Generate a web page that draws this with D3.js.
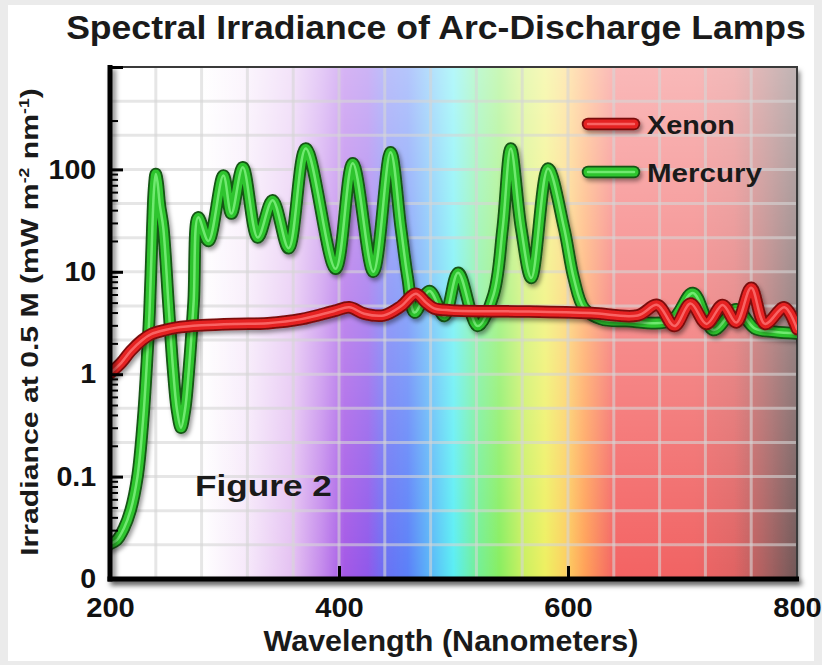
<!DOCTYPE html>
<html><head><meta charset="utf-8">
<script src="https://cdn.jsdelivr.net/npm/d3@7/dist/d3.min.js"></script>
<style>
body{margin:0;background:#ebebeb;}
svg{display:block;font-family:"Liberation Sans",Arial,Helvetica,sans-serif;font-weight:bold;}
</style>
</head><body>
<svg id="chart" width="822" height="665"></svg>
<script>
// ---------- data ----------
const titleText = "Spectral Irradiance of Arc-Discharge Lamps";
const xLabelText = "Wavelength (Nanometers)";
const xTickValues = [200, 400, 600, 800];
const yTickValues = [0.01, 0.1, 1, 10, 100];
const yTickLabels = ["0", "0.1", "1", "10", "100"];
const seriesNames = ["Xenon", "Mercury"];

const mercuryNm  = [200, 206, 212, 218, 224, 229, 232, 234.5, 237, 238.5, 240, 241.5, 243.5, 246.5, 251, 255, 258.5, 262, 265.5, 269, 273, 277, 286, 299, 306, 316, 329, 342, 356, 371, 397, 412, 430, 445, 454, 460, 466, 479, 492, 504, 521, 535, 543, 550, 559, 568, 582.5, 596.5, 605, 614, 629, 650, 690, 709, 727, 747, 763, 780, 800];
const mercuryVal = [0.022, 0.024, 0.031, 0.047, 0.10, 0.37, 1.2, 4, 27, 65, 90, 75, 45, 27, 5, 1.15, 0.45, 0.3, 0.45, 1.15, 5, 34, 20, 87, 37, 105, 21.6, 50, 17, 160, 10.7, 115, 10, 147, 27, 8.7, 4.0, 6.5, 3.7, 9.8, 2.95, 6, 27, 160, 27, 8.7, 102, 27, 8.7, 4.4, 3.45, 3.3, 3.35, 6.2, 2.7, 4.3, 2.8, 2.6, 2.5];

const xenonNm  = [200, 210, 218, 228, 236, 248, 258, 280, 310, 338, 367, 396, 409, 422, 439, 454, 467, 476, 483, 498, 560, 620, 661, 678, 693, 707, 721, 735, 747, 760, 772, 789, 800];
const xenonVal = [1.02, 1.3, 1.68, 2.15, 2.46, 2.7, 2.85, 3.0, 3.1, 3.15, 3.45, 4.15, 4.5, 3.9, 3.75, 4.6, 6.1, 5.0, 4.4, 4.2, 4.1, 3.95, 3.75, 4.75, 2.95, 4.9, 3.1, 4.75, 3.2, 7.0, 3.1, 4.5, 2.76];

// visible-spectrum background (wavelength -> colour)
const spectrumNm     = [200, 280, 320, 360, 385, 405, 425, 440, 460, 480, 500, 518, 540, 560, 580, 598, 615, 640, 710, 745, 770, 800];
const spectrumColors = ["#ffffff","#ffffff","#f6e8fa","#e4c0f2","#c48aec","#a458e6","#9058ea","#6a70f4","#5a80f8","#5ab8f8","#5aeef4","#70f0a0","#88ee60","#c8f060","#eef060","#fcd060","#ffa058","#f46464","#f06464","#e06262","#b06060","#705858"];

// ---------- layout ----------
const W = 822, H = 665;
const L = 110, R = 797, T = 67, B = 579;
const svg = d3.select("#chart");
const x = d3.scaleLinear().domain([200, 800]).range([L, R]);
const y = d3.scaleLog().domain([0.01, 1000]).range([B, T]);

const defs = svg.append("defs");
const sg = defs.append("linearGradient").attr("id","spec").attr("gradientUnits","userSpaceOnUse")
  .attr("x1", x(200)).attr("x2", x(800)).attr("y1",0).attr("y2",0);
spectrumNm.forEach((nm,i)=> sg.append("stop").attr("offset",(nm-200)/600).attr("stop-color",spectrumColors[i]));
const fg = defs.append("linearGradient").attr("id","fade").attr("x1",0).attr("x2",0).attr("y1",0).attr("y2",1);
fg.append("stop").attr("offset",0).attr("stop-color","#fff").attr("stop-opacity",0.55);
fg.append("stop").attr("offset",1).attr("stop-color","#fff").attr("stop-opacity",0);
function shadowFilter(id, dx, dy, sd, op){
  const f = defs.append("filter").attr("id",id).attr("filterUnits","userSpaceOnUse")
    .attr("x",0).attr("y",0).attr("width",W).attr("height",H);
  f.append("feDropShadow").attr("dx",dx).attr("dy",dy).attr("stdDeviation",sd).attr("flood-color","#000").attr("flood-opacity",op);
}
shadowFilter("shadow", 3, 4, 2.5, 0.5);
shadowFilter("lshadow", 2, 3, 2, 0.4);
defs.append("clipPath").attr("id","clip").append("rect").attr("x",L).attr("y",T-10).attr("width",R-L).attr("height",B-T+10);

// page panel
svg.append("rect").attr("x",0).attr("y",0).attr("width",W).attr("height",H).attr("fill","#ebebeb");
svg.append("rect").attr("x",8).attr("y",5).attr("width",806).attr("height",656).attr("fill","#ffffff");

// plot background
svg.append("g").attr("filter","url(#shadow)")
  .append("rect").attr("x",L).attr("y",T).attr("width",R-L).attr("height",B-T).attr("fill","url(#spec)");
svg.append("rect").attr("x",L).attr("y",T).attr("width",R-L).attr("height",B-T).attr("fill","url(#fade)");

// grid
const gridX = d3.range(240, 800, 40);
const gridY = d3.range(-5, 9).map(k => Math.pow(10, k/3));
const grid = svg.append("g").attr("stroke","#d6d6d6").attr("stroke-opacity",0.6).attr("stroke-width",3);
grid.selectAll("line.gx").data(gridX).join("line").attr("class","gx").attr("x1",d=>x(d)).attr("x2",d=>x(d)).attr("y1",T).attr("y2",B);
grid.selectAll("line.gy").data(gridY).join("line").attr("class","gy").attr("x1",L).attr("x2",R).attr("y1",d=>y(d)).attr("y2",d=>y(d));

// top/right frame
svg.append("path").attr("d",`M${L},${T}H${R}V${B}`).attr("fill","none").attr("stroke","#3a3a3a").attr("stroke-width",2);

// curves
const line = d3.line().x(d=>x(d[0])).y(d=>y(d[1])).curve(d3.curveCatmullRom.alpha(0.5));
const styles = {
  Xenon:   {outer:"#7a0c0c", body:"#e52222", hi:"#ff7a7a"},
  Mercury: {outer:"#135513", body:"#2ec42e", hi:"#85f585"}
};
const seriesData = {
  Xenon: xenonNm.map((n,i)=>[n, xenonVal[i]]),
  Mercury: mercuryNm.map((n,i)=>[n, mercuryVal[i]])
};
function drawStroke(g, d, s){
  g.append("path").attr("d",d).attr("fill","none").attr("stroke",s.outer).attr("stroke-width",12.5).attr("stroke-linecap","round").attr("stroke-linejoin","round");
  g.append("path").attr("d",d).attr("fill","none").attr("stroke",s.body).attr("stroke-width",9).attr("stroke-linecap","round").attr("stroke-linejoin","round");
  g.append("path").attr("d",d).attr("fill","none").attr("stroke",s.hi).attr("stroke-width",2.5).attr("stroke-opacity",0.75).attr("stroke-linecap","round").attr("stroke-linejoin","round");
}
const curves = svg.append("g").attr("clip-path","url(#clip)");
["Mercury","Xenon"].forEach(name=>{
  const g = curves.append("g").attr("filter","url(#lshadow)");
  drawStroke(g, line(seriesData[name]), styles[name]);
});

// axes (left and bottom) with shadow
const axesG = svg.append("g").attr("filter","url(#shadow)");
axesG.append("line").attr("x1",L).attr("x2",L).attr("y1",T-2).attr("y2",B+2.5).attr("stroke","#000").attr("stroke-width",5);
axesG.append("line").attr("x1",L-2.5).attr("x2",R+2).attr("y1",B).attr("y2",B).attr("stroke","#000").attr("stroke-width",5);

// y ticks (inward)
const majorY = [0.1, 1, 10, 100, 1000];
const minorY = [].concat(
  d3.range(3,10).map(k=>k*0.01),
  d3.range(2,10).map(k=>k*0.1),
  d3.range(2,10).map(k=>k*1),
  d3.range(2,10).map(k=>k*10),
  [300]
);
const yMajAx = svg.append("g").attr("transform",`translate(${L},0)`)
  .call(d3.axisRight(y).tickValues(majorY).tickSize(13).tickFormat(""));
yMajAx.select(".domain").remove();
yMajAx.selectAll("line").attr("stroke","#000").attr("stroke-width",3);
const yMinAx = svg.append("g").attr("transform",`translate(${L},0)`)
  .call(d3.axisRight(y).tickValues(minorY).tickSize(8).tickFormat(""));
yMinAx.select(".domain").remove();
yMinAx.selectAll("line").attr("stroke","#000").attr("stroke-width",2);

// y labels
const yLab = svg.append("g").attr("transform",`translate(${L},0)`)
  .call(d3.axisLeft(y).tickValues(yTickValues).tickSize(0).tickPadding(13).tickFormat((d,i)=>yTickLabels[i]));
yLab.select(".domain").remove();
yLab.selectAll("text").attr("font-size",27).attr("font-weight","bold").attr("font-family","Liberation Sans, Arial, sans-serif").attr("fill","#111")
  .attr("transform","scale(1.06,1)");

// x ticks (inward)
const xMajAx = svg.append("g").attr("transform",`translate(0,${B})`)
  .call(d3.axisTop(x).tickValues([400,600]).tickSize(13).tickFormat(""));
xMajAx.select(".domain").remove();
xMajAx.selectAll("line").attr("stroke","#000").attr("stroke-width",3);
const xLab = svg.append("g").attr("transform",`translate(0,${B})`)
  .call(d3.axisBottom(x).tickValues(xTickValues).tickSize(0).tickPadding(18).tickFormat(d3.format("d")));
xLab.select(".domain").remove();
xLab.selectAll("text").attr("font-size",28).attr("font-weight","bold").attr("font-family","Liberation Sans, Arial, sans-serif").attr("fill","#111")
  .attr("transform","scale(1.04,1)");

function fitText(sel, cx, cy, target, anchor, rotate){
  const w = sel.node().getComputedTextLength();
  const k = target / w;
  sel.attr("text-anchor", anchor).attr("x",0).attr("y",0)
     .attr("transform", `translate(${cx},${cy}) rotate(${rotate||0}) scale(${k},1)`);
}

// title
const tt = svg.append("text").attr("font-size",33).attr("fill","#1a1a1a").text(titleText);
fitText(tt, 436, 39, 740, "middle");

// x label
const xl = svg.append("text").attr("font-size",29).attr("fill","#1a1a1a").text(xLabelText);
fitText(xl, 451, 651, 375, "middle");

// y label with superscripts
const yl = svg.append("text").attr("font-size",24).attr("fill","#1a1a1a");
yl.append("tspan").text("Irradiance at 0.5 M (mW m");
yl.append("tspan").attr("font-size",14).attr("dy",-9).text("-2");
yl.append("tspan").attr("dy",9).text(" nm");
yl.append("tspan").attr("font-size",14).attr("dy",-9).text("-1");
yl.append("tspan").attr("dy",9).text(")");
{
  const w = yl.node().getBBox().width;
  const k = 468 / w;
  yl.attr("text-anchor","middle").attr("x",0).attr("y",0)
    .attr("transform",`translate(38,322) rotate(-90) scale(${k},1)`);
}

// Figure 2
const fig = svg.append("text").attr("font-size",30).attr("fill","#1a1a1a").text("Figure 2");
fitText(fig, 195, 496, 137, "start");

// legend
const legendY = [124, 172];
const legendW = [88, 115];
seriesNames.forEach((name,i)=>{
  const g = svg.append("g").attr("filter","url(#lshadow)");
  drawStroke(g, `M588,${legendY[i]}H634`, styles[name]);
  const t = svg.append("text").attr("font-size",26).attr("fill","#1a1a1a").text(name);
  fitText(t, 647, legendY[i]+10, legendW[i], "start");
});
</script>
</body></html>
